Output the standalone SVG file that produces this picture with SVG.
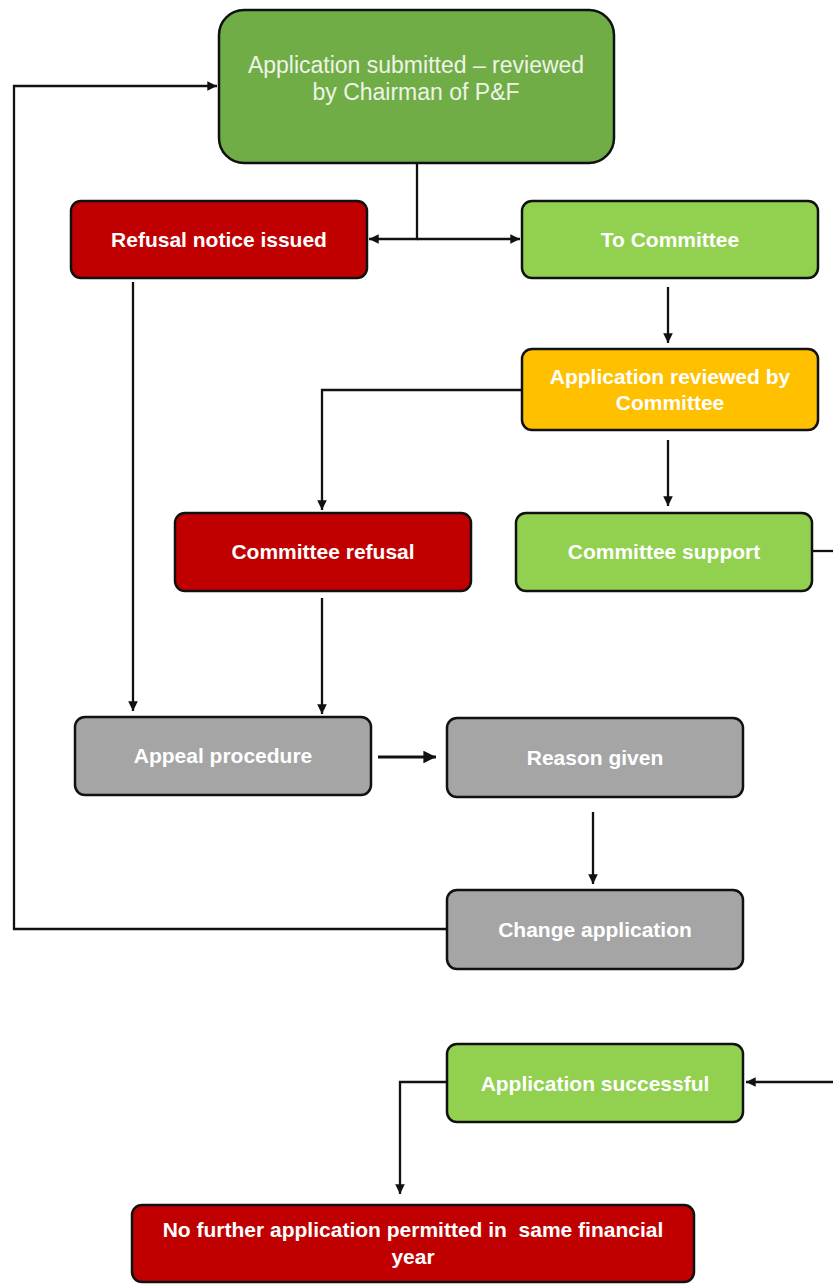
<svg xmlns="http://www.w3.org/2000/svg" width="833" height="1284" viewBox="0 0 833 1284">
<style>
.box{stroke:#111;stroke-width:2.5}
.red{fill:#C00000}.lg{fill:#92D050}.dg{fill:#70AD47}.or{fill:#FFC000}.gr{fill:#A5A5A5}
.t{font-family:"Liberation Sans",Arial,sans-serif;font-weight:bold;font-size:21px;fill:#fff;text-anchor:middle}
.tn{font-family:"Liberation Sans",Arial,sans-serif;font-size:23px;fill:#EEF4E6;text-anchor:middle}
.c{fill:none;stroke:#111;stroke-width:2.3}
</style>
<defs>
<marker id="a" viewBox="0 0 10 10" refX="10" refY="5" markerWidth="4.2" markerHeight="4.2" orient="auto" markerUnits="strokeWidth"><path d="M0,0L10,5L0,10z" fill="#111"/></marker>
</defs>
<rect width="833" height="1284" fill="#fff"/>
<g id="connectors">
<path class="c" d="M417,163V239H369" marker-end="url(#a)"/>
<path class="c" d="M417,239H520" marker-end="url(#a)"/>
<path class="c" d="M668,287V343" marker-end="url(#a)"/>
<path class="c" d="M522,390H322V510" marker-end="url(#a)"/>
<path class="c" d="M668,440V506" marker-end="url(#a)"/>
<path class="c" d="M812,551H833"/>
<path class="c" d="M133,282V711" marker-end="url(#a)"/>
<path class="c" d="M322,598V714" marker-end="url(#a)"/>
<path class="c" style="stroke-width:3" d="M378,757H436" marker-end="url(#a)"/>
<path class="c" d="M593,812V884" marker-end="url(#a)"/>
<path class="c" d="M447,929H14V86H217" marker-end="url(#a)"/>
<path class="c" d="M833,1082H746" marker-end="url(#a)"/>
<path class="c" d="M447,1082H400V1194" marker-end="url(#a)"/>
</g>
<g id="n1"><rect class="box dg" x="219" y="10" width="395" height="153" rx="25"/>
<text class="tn" x="416" y="73">Application submitted – reviewed</text>
<text class="tn" x="416" y="100">by Chairman of P&amp;F</text></g>
<g id="n2"><rect class="box red" x="71" y="201" width="296" height="77" rx="10"/>
<text class="t" x="219" y="247">Refusal notice issued</text></g>
<g id="n3"><rect class="box lg" x="522" y="201" width="296" height="77" rx="10"/>
<text class="t" x="670" y="247">To Committee</text></g>
<g id="n4"><rect class="box or" x="522" y="349" width="296" height="81" rx="10"/>
<text class="t" x="670" y="384">Application reviewed by</text>
<text class="t" x="670" y="410">Committee</text></g>
<g id="n5"><rect class="box red" x="175" y="513" width="296" height="78" rx="10"/>
<text class="t" x="323" y="559">Committee refusal</text></g>
<g id="n6"><rect class="box lg" x="516" y="513" width="296" height="78" rx="10"/>
<text class="t" x="664" y="559">Committee support</text></g>
<g id="n7"><rect class="box gr" x="75" y="717" width="296" height="78" rx="10"/>
<text class="t" x="223" y="763">Appeal procedure</text></g>
<g id="n8"><rect class="box gr" x="447" y="718" width="296" height="79" rx="10"/>
<text class="t" x="595" y="765">Reason given</text></g>
<g id="n9"><rect class="box gr" x="447" y="890" width="296" height="79" rx="10"/>
<text class="t" x="595" y="937">Change application</text></g>
<g id="n10"><rect class="box lg" x="447" y="1044" width="296" height="78" rx="10"/>
<text class="t" x="595" y="1091">Application successful</text></g>
<g id="n11"><rect class="box red" x="132" y="1205" width="562" height="77" rx="10"/>
<text class="t" x="413" y="1237" xml:space="preserve">No further application permitted in  same financial</text>
<text class="t" x="413" y="1264">year</text></g>
</svg>
